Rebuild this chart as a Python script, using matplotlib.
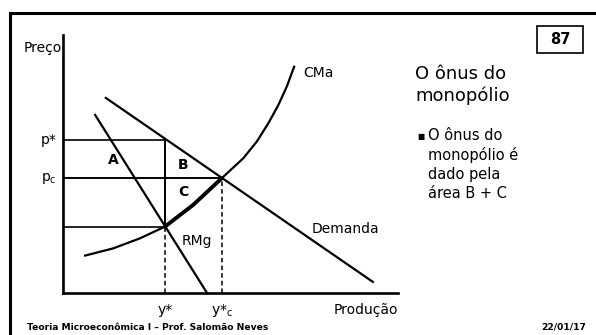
import matplotlib
matplotlib.use("Agg")
import matplotlib.pyplot as plt
from matplotlib.lines import Line2D
from matplotlib.patches import Rectangle

W, H = 596, 335

demanda_q = [1.28, 9.25]
demanda_p = [7.56, 0.43]
rmg_q = [0.96, 4.30]
rmg_p = [6.90, 0.00]
cma_q = [0.66, 1.50, 2.30, 3.04, 3.89, 4.74, 5.38, 5.78, 6.13, 6.43, 6.68, 6.90]
cma_p = [1.45, 1.73, 2.12, 2.57, 3.42, 4.45, 5.22, 5.86, 6.58, 7.29, 8.00, 8.77]
y_mon = 3.04
y_comp = 4.74
p_mon = 5.93
p_comp = 4.45
cmg_mon = 2.57

titulo = "O ônus do\nmonopólio"
bullet = "O ônus do\nmonopólio é\ndado pela\nárea B + C"
rodape = "Teoria Microeconômica I – Prof. Salomão Neves"
data_slide = "22/01/17"
pagina = "87"


def fx(px):
    return px / W


def fy(py):
    return 1 - py / H


plt.rcParams["font.family"] = ["DejaVu Sans"]
fig = plt.figure(figsize=(W / 100, H / 100), dpi=100)
fig.patch.set_facecolor("white")

# moldura do slide (topo e esquerda)
fig.add_artist(Line2D([fx(10), 1], [fy(13), fy(13)], color="black", lw=2.2))
fig.add_artist(Line2D([fx(10), fx(10)], [fy(13), 0], color="black", lw=2.2))

# caixa com o numero do slide
fig.add_artist(Rectangle((fx(537), fy(53)), fx(583) - fx(537), fy(26) - fy(53),
                         fill=False, edgecolor="black", lw=1.2, transform=fig.transFigure))
fig.text(fx(560), fy(40), pagina, ha="center", va="center", fontsize=10.5, fontweight="bold")

# texto da direita
fig.text(fx(415), fy(65), titulo, ha="left", va="top", fontsize=13, linespacing=1.25)
fig.text(fx(421), fy(136), "■", ha="center", va="center", fontsize=5.5)
fig.text(fx(428), fy(128), bullet, ha="left", va="top", fontsize=10.5, linespacing=1.33)

# rodape
fig.text(fx(27), fy(327), rodape, ha="left", va="center", fontsize=6.6, fontweight="bold")
fig.text(fx(586), fy(327), data_slide, ha="right", va="center", fontsize=6.6, fontweight="bold")

# grafico principal
ax = fig.add_axes([fx(63), fy(293), fx(398) - fx(63), fy(35) - fy(293)])
ax.set_xlim(0, 10)
ax.set_ylim(0, 10)
for s in ["top", "right"]:
    ax.spines[s].set_visible(False)
for s in ["left", "bottom"]:
    ax.spines[s].set_linewidth(1.9)
ax.set_xticks([])
ax.set_yticks([])
ax.patch.set_alpha(0)

lw = 1.6
ax.plot(demanda_q, demanda_p, color="black", lw=lw, clip_on=False)
ax.plot(rmg_q, rmg_p, color="black", lw=lw, clip_on=False)
ax.plot(cma_q, cma_p, color="black", lw=lw, clip_on=False, solid_joinstyle="round")
ax.plot(cma_q[3:6], cma_p[3:6], color="black", lw=2.8, solid_capstyle="round")

# linhas de referencia
ax.plot([0, y_mon], [p_mon, p_mon], color="black", lw=1.2)
ax.plot([0, y_comp], [p_comp, p_comp], color="black", lw=1.4)
ax.plot([0, y_mon], [cmg_mon, cmg_mon], color="black", lw=1.2)
ax.plot([y_mon, y_mon], [cmg_mon, p_mon], color="black", lw=1.4)
ax.plot([y_mon, y_mon], [0, cmg_mon], color="black", lw=1.1, dashes=(3, 2))
ax.plot([y_comp, y_comp], [0, p_comp], color="black", lw=1.1, dashes=(3, 2))

# rotulos
fs = 10
ax.text(-0.03, 9.5, "Preço", ha="right", va="center", fontsize=fs)
ax.text(-0.2, p_mon, "p*", ha="right", va="center", fontsize=fs)
ax.text(-0.2, p_comp, r"p$_\mathregular{c}$", ha="right", va="center", fontsize=fs)
ax.text(y_mon, -0.66, "y*", ha="center", va="center", fontsize=fs)
ax.text(y_comp, -0.66, r"y*$_\mathregular{c}$", ha="center", va="center", fontsize=fs)
ax.text(10, -0.66, "Produção", ha="right", va="center", fontsize=fs)
ax.text(1.49, 5.16, "A", ha="center", va="center", fontsize=fs, fontweight="bold")
ax.text(3.43, 4.96, "B", ha="left", va="center", fontsize=fs, fontweight="bold")
ax.text(3.43, 3.91, "C", ha="left", va="center", fontsize=fs, fontweight="bold")
ax.text(3.55, 2.0, "RMg", ha="left", va="center", fontsize=fs)
ax.text(7.16, 8.53, "CMa", ha="left", va="center", fontsize=fs)
ax.text(7.43, 2.48, "Demanda", ha="left", va="center", fontsize=fs)

fig.savefig("out.png", dpi=100)
